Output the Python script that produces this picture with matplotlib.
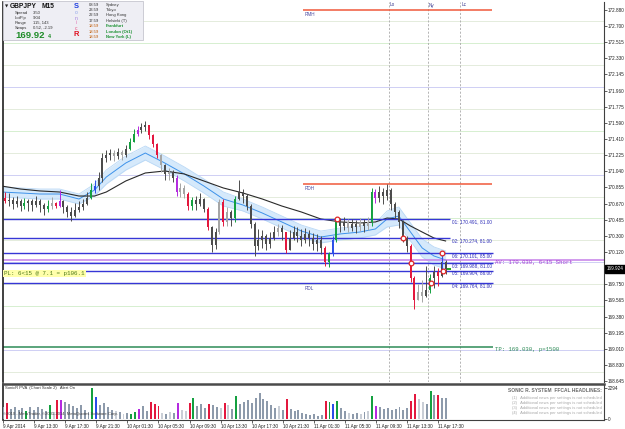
import matplotlib
matplotlib.use("Agg")
import matplotlib.pyplot as plt
from matplotlib.patches import Rectangle
import matplotlib.transforms as mtrans

SANS = ['Liberation Sans', 'DejaVu Sans']
MONO = ['Liberation Mono', 'DejaVu Sans Mono']
plt.rcParams['font.family'] = SANS

# ---------------- data ----------------
first_open = 170.760
closes = [170.734, 170.700, 170.711, 170.665, 170.699, 170.642, 170.677, 170.700, 170.654, 170.699,
          170.654, 170.608, 170.642, 170.677, 170.640, 170.700, 170.631, 170.574, 170.528, 170.597,
          170.631, 170.665, 170.734, 170.825, 170.871, 170.962, 171.190, 171.225, 171.247, 171.213,
          171.259, 171.225, 171.293, 171.373, 171.464, 171.510, 171.544, 171.567, 171.453, 171.350,
          171.225, 171.110, 171.008, 171.030, 170.962, 170.802, 170.848, 170.779, 170.642, 170.711,
          170.665, 170.722, 170.608, 170.403, 170.197, 170.345, 170.688, 170.460, 170.574, 170.505,
          170.722, 170.802, 170.756, 170.642, 170.437, 170.186, 170.254, 170.300, 170.208, 170.277,
          170.345, 170.391, 170.345, 170.140, 170.277, 170.345, 170.300, 170.254, 170.323, 170.277,
          170.208, 170.254, 170.163, 170.003, 170.094, 170.254, 170.471, 170.414, 170.460, 170.391,
          170.437, 170.403, 170.448, 170.414, 170.460, 170.802, 170.734, 170.802, 170.756, 170.825,
          170.665, 170.574, 170.460, 170.277, 170.186, 169.820, 169.569, 169.661, 169.615, 169.683,
          169.820, 169.889, 169.843, 170.003, 169.924]
highs = [170.802, 170.800, 170.791, 170.745, 170.756, 170.722, 170.734, 170.720, 170.722, 170.756,
         170.722, 170.677, 170.711, 170.745, 170.690, 170.825, 170.711, 170.654, 170.631, 170.677,
         170.699, 170.722, 170.802, 170.905, 170.939, 171.030, 171.247, 171.282, 171.293, 171.282,
         171.304, 171.282, 171.339, 171.419, 171.521, 171.556, 171.590, 171.613, 171.556, 171.464,
         171.362, 171.236, 171.122, 171.076, 171.053, 170.996, 170.905, 170.882, 170.802, 170.745,
         170.756, 170.791, 170.734, 170.631, 170.414, 170.391, 170.722, 170.722, 170.631, 170.597,
         170.756, 170.939, 170.836, 170.779, 170.665, 170.460, 170.380, 170.368, 170.323, 170.345,
         170.414, 170.437, 170.425, 170.323, 170.368, 170.414, 170.403, 170.380, 170.391, 170.368,
         170.334, 170.323, 170.300, 170.186, 170.117, 170.300, 170.505, 170.505, 170.517, 170.494,
         170.494, 170.482, 170.505, 170.494, 170.517, 170.848, 170.836, 170.871, 170.848, 170.893,
         170.848, 170.688, 170.597, 170.482, 170.300, 170.208, 169.843, 169.752, 169.798, 169.957,
         169.866, 169.957, 169.935, 170.106, 170.026]
lows = [170.654, 170.680, 170.642, 170.608, 170.631, 170.585, 170.608, 170.590, 170.585, 170.631,
        170.574, 170.540, 170.574, 170.608, 170.620, 170.631, 170.562, 170.517, 170.471, 170.517,
        170.574, 170.597, 170.654, 170.722, 170.791, 170.825, 170.916, 171.145, 171.167, 171.156,
        171.179, 171.167, 171.202, 171.282, 171.373, 171.441, 171.476, 171.499, 171.407, 171.316,
        171.190, 171.030, 170.939, 170.939, 170.916, 170.756, 170.745, 170.734, 170.597, 170.597,
        170.597, 170.642, 170.574, 170.368, 170.117, 170.151, 170.323, 170.414, 170.414, 170.414,
        170.460, 170.711, 170.677, 170.597, 170.391, 170.072, 170.140, 170.163, 170.140, 170.163,
        170.254, 170.300, 170.254, 170.106, 170.140, 170.254, 170.231, 170.186, 170.220, 170.186,
        170.140, 170.129, 170.094, 169.957, 169.946, 170.072, 170.231, 170.345, 170.368, 170.345,
        170.357, 170.334, 170.357, 170.345, 170.368, 170.414, 170.677, 170.688, 170.665, 170.711,
        170.597, 170.505, 170.391, 170.231, 170.117, 169.775, 169.466, 169.569, 169.546, 169.600,
        169.649, 169.706, 169.729, 169.830, 169.866]
pva = ("gRggggGggg" "ggGlRPgggg" "gggGBggggl" "glgGGPggRR" "RlglgPllRG"
       "gggRgglRlg" "Gggggggggg" "glgRgggggg" "gggRGBGggl" "gglglGPggg"
       "gggggRRllg" "GgRgg")
volumes = [890, 1180, 740, 890, 670, 810, 590, 890, 670, 890,
           740, 590, 1040, 520, 1400, 1400, 1260, 1110, 960, 810,
           1040, 670, 520, 2294, 1630, 1040, 1180, 890, 670, 590,
           520, 370, 440, 370, 520, 740, 960, 590, 1260, 1110,
           1000, 440, 370, 520, 440, 1180, 670, 590, 1180, 1550,
           960, 1110, 810, 1110, 1040, 890, 810, 1180, 1040, 740,
           1700, 1110, 1260, 1400, 1180, 1550, 1920, 1480, 1330, 1040,
           810, 960, 670, 1480, 740, 590, 670, 440, 370, 300,
           370, 220, 300, 1330, 1260, 1110, 1330, 810, 590, 440,
           370, 440, 370, 520, 590, 1700, 960, 890, 740, 810,
           670, 740, 890, 670, 810, 1330, 1850, 1480, 1260, 1110,
           2070, 1780, 1780, 1550, 1550]

# Sonic R dragon (EMA34 band) and EMA89, sampled at these bars
ma_bars = [0, 5, 10, 15, 20, 24, 27, 32, 37, 42, 47, 52, 57, 62, 67, 72, 77, 82, 87, 92,
           96, 99, 102, 105, 108, 111, 114]
dragon_mid = [170.802, 170.791, 170.779, 170.779, 170.722, 170.825, 170.973, 171.133, 171.247,
              171.133, 171.008, 170.871, 170.722, 170.654, 170.562, 170.460, 170.357, 170.288,
              170.323, 170.345, 170.380, 170.494, 170.528, 170.345, 170.163, 170.072, 170.026]
dragon_hi = [170.859, 170.848, 170.836, 170.836, 170.779, 170.893, 171.053, 171.213, 171.327,
             171.213, 171.088, 170.951, 170.802, 170.722, 170.630, 170.528, 170.425, 170.356,
             170.391, 170.413, 170.448, 170.585, 170.631, 170.448, 170.266, 170.175, 170.129]
dragon_lo = [170.745, 170.734, 170.722, 170.722, 170.665, 170.757, 170.893, 171.053, 171.167,
             171.053, 170.928, 170.791, 170.642, 170.586, 170.494, 170.392, 170.289, 170.220,
             170.255, 170.277, 170.312, 170.403, 170.425, 170.242, 170.060, 169.969, 169.923]
ema89 = [170.871, 170.836, 170.814, 170.802, 170.756, 170.756, 170.802, 170.928, 171.019,
         171.042, 171.008, 170.928, 170.848, 170.791, 170.722, 170.642, 170.574, 170.494,
         170.460, 170.448, 170.460, 170.505, 170.494, 170.414, 170.345, 170.277, 170.243]

tick_bars = [0, 8, 16, 24, 32, 40, 48, 56, 64, 72, 80, 88, 96, 104, 112]
tick_labels = ["9 Apr 2014", "9 Apr 13:30", "9 Apr 17:30", "9 Apr 21:30", "10 Apr 01:30",
               "10 Apr 05:30", "10 Apr 09:30", "10 Apr 13:30", "10 Apr 17:30", "10 Apr 21:30",
               "11 Apr 01:30", "11 Apr 05:30", "11 Apr 09:30", "11 Apr 13:30", "11 Apr 17:30"]
price_ticks = [172.880, 172.700, 172.515, 172.330, 172.145, 171.960, 171.775, 171.590, 171.410,
               171.225, 171.040, 170.855, 170.670, 170.485, 170.300, 170.120, 169.750, 169.565,
               169.380, 169.195, 169.010, 168.830, 168.645]
grid_levels = [168.75, 169.00, 169.25, 169.50, 169.75, 170.00, 170.25, 170.50, 170.75,
               171.00, 171.25, 171.50, 171.75, 172.00, 172.25, 172.50, 172.75]

level_names = ["01", "02", "06", "03", "05", "04"]
level_prices = [170.491, 170.274, 170.101, 169.988, 169.904, 169.764]
level_lots = ["81.00", "81.00", "85.00", "81.00", "86.00", "81.00"]
trade_bars = [86.2, 103.1, 113.1, 105.1, 113.3, 110.3]
av_price = 170.030
tp_price = 169.030
rmh_price = 172.880
rdh_price = 170.893
last_price = 169.924
session_bars = [99.5, 109.5, 117.7]
session_names = ["Lo", "Ny", "Lc"]

# ---------------- layout helpers ----------------
W, H = 625, 429
fig = plt.figure(figsize=(W / 100, H / 100), dpi=100)
fig.patch.set_facecolor("white")


def fbox(x0, y0, x1, y1):
    return [x0 / W, 1 - y1 / H, (x1 - x0) / W, (y1 - y0) / H]


def bx(px):  # pixel column -> bar position
    return (px - 1) / 3.9


ax = fig.add_axes(fbox(3, 2, 604, 382))
axv = fig.add_axes(fbox(3, 384, 604, 420))
X0, X1 = bx(3), bx(604)
ax.set_xlim(X0, X1)
ax.set_ylim(168.633, 172.971)
axv.set_xlim(X0, X1)
axv.set_ylim(-79, 2610)

cand_col = {'g': '#4c4c4c', 'l': '#a6a6a6', 'G': '#14a040', 'R': '#e3183e',
            'B': '#2a4ee8', 'P': '#b42ae0'}
vol_col = {'g': '#8d9aab', 'l': '#c9ced6', 'G': '#14a040', 'R': '#e3183e',
           'B': '#2a4ee8', 'P': '#b42ae0'}

TICK_FS = 3.35

# grid-like round number lines
for lv in grid_levels:
    frac = round(lv % 1, 2)
    if frac == 0.0:
        c = '#cfcff4'
    elif frac == 0.5:
        c = '#d6efd0'
    else:
        c = '#e4ecdc'
    ax.axhline(lv, color=c, lw=0.7, zorder=0)

# session lines
for b in session_bars:
    ax.axvline(b, color='#a8a8a8', lw=0.6, ls=(0, (2.5, 2)), zorder=1)

# dragon band and EMA
ax.fill_between(ma_bars, dragon_lo, dragon_hi, color='#d5e9fb', lw=0, zorder=1)
ax.plot(ma_bars, dragon_hi, color='#b9d8f6', lw=0.6, zorder=1)
ax.plot(ma_bars, dragon_lo, color='#b9d8f6', lw=0.6, zorder=1)
ax.plot(ma_bars, dragon_mid, color='#3d92ea', lw=0.7, zorder=2)
ax.plot(ma_bars, ema89, color='#2a2a2a', lw=0.8, zorder=2)

# level lines
for nm, pr, lot in zip(level_names, level_prices, level_lots):
    end = 450 if nm in ("01", "02") else 493
    ax.hlines(pr, X0, bx(end), color='#3636d6', lw=1.0, zorder=2)
    ax.text(bx(452), pr, f"{nm}: {pr:.3f}, {lot}", fontsize=3.4, color='#2c2cb8',
            va='top', ha='left', zorder=7)

ax.axhline(av_price, color='#c57ee8', lw=1.1, zorder=2)
ax.text(bx(495), av_price, f"AV: {av_price:.3f}, 6<15 Short", family=MONO, fontsize=4.1,
        color='#a43cd4', va='top', ha='left', zorder=7)
ax.hlines(tp_price, X0, bx(493), color='#2e8b57', lw=1.1, zorder=2)
ax.text(bx(495), tp_price, f"TP: {tp_price:.3f}, p=1500", family=MONO, fontsize=4.1,
        color='#2e8b57', va='top', ha='left', zorder=7)

ax.hlines([rmh_price, rdh_price], bx(303), bx(492), color='#f0583a', lw=1.1, zorder=2)

# candles
idx = list(range(len(closes)))
opens = [first_open] + closes[:-1]
cols = [cand_col[c] for c in pva]
ax.vlines(idx, lows, highs, colors=cols, lw=0.7, zorder=4)
bottoms = [min(o, c) for o, c in zip(opens, closes)]
heights = [max(abs(c - o), 0.008) for o, c in zip(opens, closes)]
ax.bar(idx, heights, bottom=bottoms, width=0.5, color=cols, lw=0, zorder=4)

# trade markers
ax.vlines(113.2, level_prices[4], level_prices[2], color='#3050e0', lw=0.8, zorder=5)
ax.plot(trade_bars, level_prices, 'o', ms=3.4, mfc='white', mec='#e02424', mew=0.9, zorder=6)
ax.hlines(last_price, 114.4, 115.4, color='#20a020', lw=1.4, zorder=5)

# axes styling main
ax.set_xticks([])
ax.yaxis.tick_right()
ax.set_yticks(price_ticks)
ax.set_yticklabels([f"{p:.3f}" for p in price_ticks])
ax.tick_params(axis='y', length=2, width=0.5, pad=0.8, labelsize=TICK_FS, colors='#202020')
for s in ('top', 'bottom'):
    ax.spines[s].set_visible(False)
ax.spines['left'].set_color('#202020'); ax.spines['left'].set_linewidth(1.2)
ax.spines['right'].set_color('#404040'); ax.spines['right'].set_linewidth(0.8)

blend = mtrans.blended_transform_factory(ax.transAxes, ax.transData)
ax.text(1.0045, last_price, f"{last_price:.3f}", transform=blend, fontsize=TICK_FS,
        color='white', va='center', ha='left',
        bbox=dict(boxstyle='square,pad=0.3', fc='black', ec='black'), zorder=8, clip_on=False)

# volume panel
axv.bar(idx, volumes, width=0.5, color=[vol_col[c] for c in pva], lw=0, zorder=3)
axv.yaxis.tick_right()
axv.set_yticks([0, 2294])
axv.set_yticklabels(["0", "2294"])
axv.tick_params(axis='y', length=2, width=0.5, pad=0.8, labelsize=TICK_FS, colors='#202020')
axv.set_xticks(tick_bars)
axv.set_xticklabels(tick_labels, ha='left')
axv.tick_params(axis='x', length=2, width=0.5, pad=0.6, labelsize=TICK_FS, colors='#202020')
axv.spines['top'].set_color('#4a4a4a'); axv.spines['top'].set_linewidth(1.8)
axv.spines['bottom'].set_color('#404040'); axv.spines['bottom'].set_linewidth(0.8)
axv.spines['left'].set_color('#202020'); axv.spines['left'].set_linewidth(1.2)
axv.spines['right'].set_color('#404040'); axv.spines['right'].set_linewidth(0.8)

# ---------------- overlay texts (pixel space) ----------------
ov = fig.add_axes([0, 0, 1, 1], zorder=10)
ov.set_xlim(0, W); ov.set_ylim(H, 0); ov.axis('off'); ov.patch.set_alpha(0)

for px, nm in zip([390, 429, 462], session_names):
    ov.text(px, 5, nm, fontsize=3.3, color='#3c3c90', va='center')
ov.text(305, 15, "RMH", fontsize=3.3, color='#4a4aa0', va='center')
ov.text(305, 189, "RDH", fontsize=3.3, color='#4a4aa0', va='center')
ov.text(305, 289, "RDL", fontsize=3.3, color='#4a4aa0', va='center')
ov.text(4, 273.5, "PL: 6<15 @ 7.1 = p106.1", family=MONO, fontsize=4.2, color='#4f7a1a',
        va='center', bbox=dict(boxstyle='square,pad=0.25', fc='#ffffaa', ec='none'))

# info panel
ov.add_patch(Rectangle((3, 1), 140, 39, fc='#eeeef4', ec='#c6c6ce', lw=0.6))
ov.text(4.5, 6, "▼", family=['DejaVu Sans'], fontsize=3.0, va='center', color='#202020')
ov.text(10, 6, "GBPJPY", fontsize=4.8, weight='bold', va='center', color='#111111')
ov.text(42, 6, "M15", fontsize=4.8, weight='bold', va='center', color='#111111')
for yy, lab, val in zip([13, 18, 23, 28], ["Spread", "LotPip", "Range", "Swaps"],
                        ["3.50", "9.04", "115, 143", "0.52, -2.19"]):
    ov.text(15, yy, lab, fontsize=3.0, va='center', color='#303030')
    ov.text(33, yy, val, fontsize=3.0, va='center', color='#303030')
ov.text(15, 36, "169.92", fontsize=6.8, weight='bold', va='center', color='#1e8c28')
ov.text(47.5, 37, "4", fontsize=3.8, weight='bold', va='center', color='#1e8c28')
for yy, ch, sz, c, w in [(6, "S", 5.4, '#1c3ce0', 'bold'), (13, "o", 3.6, '#8ea4ea', 'normal'),
                         (18, "n", 3.6, '#a07ee0', 'normal'), (23, "i", 3.6, '#e070b0', 'normal'),
                         (28, "c", 3.6, '#e85080', 'normal'), (35, "R", 5.4, '#e01020', 'bold')]:
    ov.text(76, yy, ch, fontsize=sz, weight=w, color=c, ha='center', va='center')
times = ["08:59", "23:59", "22:59", "17:59", "18:59", "18:59", "18:59"]
cities = ["Sydney", "Tokyo", "Hong Kong", "Helsinki (T)", "Frankfurt", "London (Ot1)", "New York (L)"]
for k, (yy, t, cty) in enumerate(zip([5, 10, 15, 21, 26, 32, 37], times, cities)):
    open_ = k >= 4
    ov.text(89, yy, t, fontsize=3.0, va='center', color='#c05800' if open_ else '#303030')
    ov.text(106, yy, cty, fontsize=3.0, va='center', color='#1a9030' if open_ else '#303030',
            weight='bold' if open_ else 'normal')

# volume panel texts
ov.text(5, 388.5, "SonicR PVA  (Chart Scale 2)   Alert On", fontsize=3.0, va='center',
        color='#303030')
ov.text(3, 413.5, "©2010 - MetaTrader, ©2001-2014, MetaQuotes Software Corp.", fontsize=3.0,
        va='center', color='#404040', zorder=1)
ov.text(602, 391, "SONIC R. SYSTEM  FFCAL HEADLINES:", fontsize=3.5, weight='bold',
        va='center', ha='right', color='#6a6a6a')
for k, yy in enumerate([397.5, 402.7, 408, 413.2]):
    ov.text(602, yy, f"({k + 1})   Additional news per settings is not scheduled", fontsize=3.0,
            va='center', ha='right', color='#a8a8a8')

fig.savefig("out.png", dpi=100, facecolor='white')
